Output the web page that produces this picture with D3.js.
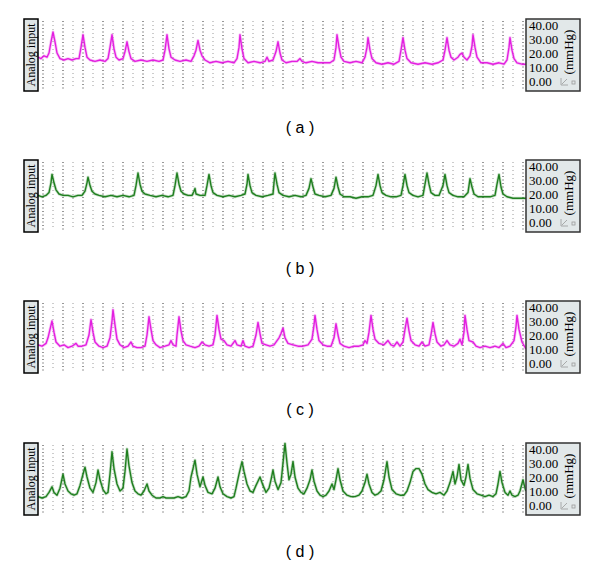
<!DOCTYPE html>
<html>
<head>
<meta charset="utf-8">
<script src="https://cdn.jsdelivr.net/npm/d3@7"></script>
<style>
  body { margin: 0; background: #fff; }
</style>
</head>
<body>
<div id="chart"></div>
<script>
// Size of the page
var width = 600, height = 566;

// Tick labels of the pressure axis (mmHg)
var yTicks = [0, 10, 20, 30, 40];

// Panel captions
var captions = ["( a )", "( b )", "( c )", "( d )"];

// Trace colours for the panels
var traceColors = ["#e31fe0", "#1f7f1f", "#e31fe0", "#1f7f1f"];

// Traces: [sample, pressure in mmHg]
var traceA = [[0,17],[3,16],[6,18],[9,17],[11,20],[13,28],[15,35],[17,28],[19,20],[22,16],[26,15],[30,16],[34,15],[38,16],[41,16],[43,24],[45,33],[47,24],[49,17],[52,15],[57,14],[62,15],[67,14],[70,16],[72,24],[74,33],[76,23],[78,17],[81,15],[85,16],[87,21],[89,28],[91,21],[93,16],[97,14],[103,15],[109,14],[115,15],[121,14],[125,15],[127,22],[129,33],[131,23],[133,17],[137,15],[142,14],[148,15],[153,14],[156,18],[158,22],[160,29],[162,22],[164,18],[167,15],[172,13],[178,14],[184,13],[190,14],[196,13],[199,16],[201,24],[202,33],[204,23],[206,16],[210,13],[216,14],[222,13],[227,14],[229,17],[231,14],[235,15],[238,21],[240,28],[242,20],[244,15],[248,13],[254,14],[259,14],[262,16],[264,14],[268,13],[274,14],[280,13],[286,13],[292,13],[296,15],[298,24],[299,33],[301,24],[303,17],[306,14],[312,13],[318,14],[324,13],[327,17],[329,24],[330,31],[332,22],[334,16],[338,13],[344,12],[350,13],[356,12],[361,14],[363,22],[365,31],[367,22],[369,16],[373,13],[380,12],[387,13],[394,12],[400,13],[405,15],[407,22],[409,31],[411,22],[413,17],[416,15],[420,17],[422,19],[424,20],[426,17],[429,15],[432,18],[434,25],[435,33],[437,24],[439,17],[443,13],[449,13],[455,12],[461,13],[466,12],[469,15],[471,24],[472,31],[474,22],[476,16],[479,13],[484,12],[488,12]];

var traceB = [[0,19],[4,18],[8,19],[11,21],[13,28],[14,34],[16,28],[18,23],[21,20],[25,19],[30,19],[35,18],[40,19],[44,19],[47,22],[49,28],[50,32],[52,26],[54,22],[57,20],[61,19],[67,18],[73,19],[79,18],[85,19],[91,18],[96,19],[98,26],[100,35],[102,27],[104,22],[107,20],[112,19],[118,18],[124,19],[130,18],[135,19],[137,26],[139,35],[141,27],[143,22],[146,20],[150,19],[154,19],[156,22],[157,24],[158,20],[162,19],[167,19],[169,26],[171,34],[173,26],[175,21],[179,19],[185,18],[191,19],[197,18],[203,19],[207,20],[209,27],[210,34],[212,26],[214,21],[218,19],[224,18],[230,19],[235,20],[236,28],[237,35],[239,27],[241,21],[245,19],[251,18],[257,19],[263,18],[268,19],[271,24],[273,31],[275,25],[277,20],[281,19],[287,18],[293,19],[296,24],[298,32],[300,25],[302,20],[306,18],[312,18],[318,17],[324,18],[330,18],[335,19],[338,26],[340,34],[342,26],[344,21],[348,19],[353,18],[358,18],[363,19],[365,26],[367,34],[369,26],[371,21],[375,19],[380,18],[385,19],[387,27],[389,35],[391,27],[393,21],[397,19],[401,19],[405,26],[407,34],[409,26],[411,21],[415,19],[420,18],[426,18],[430,21],[432,31],[434,25],[436,20],[440,18],[446,18],[452,18],[457,19],[459,27],[461,34],[463,25],[465,20],[469,18],[475,17],[481,17],[488,17]];

var traceC = [[0,13],[4,12],[8,14],[10,18],[12,24],[14,30],[16,22],[18,15],[22,12],[26,13],[30,11],[34,12],[38,14],[40,12],[44,12],[48,13],[51,20],[53,31],[55,22],[57,15],[61,12],[65,11],[69,12],[72,18],[74,30],[75,38],[77,27],[79,17],[82,13],[86,11],[90,12],[93,15],[95,12],[99,11],[103,11],[107,12],[109,20],[111,33],[113,24],[115,16],[118,13],[122,11],[127,12],[131,13],[133,16],[135,13],[138,12],[139,20],[141,33],[143,23],[145,16],[148,13],[152,12],[157,11],[161,12],[164,15],[167,13],[171,12],[175,13],[177,20],[179,34],[181,24],[183,17],[186,16],[189,13],[193,12],[197,16],[199,13],[203,12],[205,16],[207,12],[211,11],[215,12],[218,20],[220,29],[222,21],[224,14],[228,13],[232,12],[236,13],[241,18],[243,21],[245,25],[247,18],[250,14],[255,13],[260,12],[265,12],[270,13],[274,17],[276,27],[277,34],[279,24],[281,16],[285,13],[289,12],[293,12],[296,18],[298,28],[300,20],[302,14],[306,12],[311,11],[316,12],[321,12],[325,13],[327,16],[329,14],[331,22],[333,34],[335,24],[337,17],[341,14],[346,13],[350,16],[353,13],[356,12],[359,15],[362,12],[365,15],[367,24],[369,32],[371,23],[373,16],[377,13],[381,12],[384,15],[387,12],[391,13],[393,20],[395,29],[397,21],[399,15],[403,12],[406,13],[409,16],[412,13],[416,12],[420,14],[422,17],[424,13],[426,22],[427,34],[429,24],[431,16],[435,15],[438,12],[442,11],[447,12],[452,11],[457,12],[461,11],[465,14],[468,11],[472,12],[476,16],[478,26],[479,34],[481,24],[484,15],[488,10]];

var traceD = [[0,6],[4,5],[8,6],[11,9],[14,13],[16,9],[19,7],[22,12],[25,22],[27,15],[30,10],[33,8],[36,7],[39,8],[42,14],[45,22],[47,27],[49,20],[52,12],[55,9],[58,16],[60,25],[62,18],[65,11],[68,8],[70,9],[72,22],[74,38],[76,26],[79,15],[82,10],[85,12],[87,24],[89,40],[91,28],[94,16],[97,10],[100,8],[103,7],[106,10],[109,15],[111,10],[114,7],[118,5],[122,5],[125,6],[128,5],[132,5],[136,5],[140,6],[144,5],[148,6],[151,10],[153,20],[155,26],[157,32],[159,22],[162,13],[165,20],[167,14],[170,9],[174,8],[177,12],[180,20],[182,13],[185,8],[189,6],[193,5],[196,6],[198,12],[201,22],[204,31],[206,24],[209,15],[212,10],[215,9],[218,14],[222,20],[225,14],[228,9],[231,12],[233,18],[235,25],[237,17],[240,11],[243,16],[245,30],[247,44],[249,30],[251,18],[253,22],[255,31],[257,20],[260,12],[263,9],[266,8],[269,12],[272,18],[274,25],[276,17],[279,10],[282,7],[285,6],[288,7],[291,10],[294,15],[296,11],[298,18],[300,26],[302,18],[305,10],[309,7],[313,6],[317,6],[321,7],[324,10],[327,16],[329,22],[331,15],[334,9],[337,7],[340,8],[343,10],[346,18],[349,31],[351,20],[354,11],[358,8],[362,7],[366,7],[369,10],[372,16],[375,24],[378,26],[381,26],[384,22],[387,15],[390,11],[394,9],[398,8],[402,9],[406,7],[409,10],[412,16],[415,24],[417,15],[419,20],[421,29],[423,18],[426,14],[428,20],[430,29],[432,19],[435,11],[439,8],[443,7],[447,6],[451,7],[455,6],[458,8],[460,15],[462,24],[464,16],[467,9],[470,7],[472,10],[474,7],[477,6],[480,7],[482,10],[485,18],[487,12],[488,10]];

var traces = [traceA, traceB, traceC, traceD];

// Layout of one panel
var panelTops = [19, 160, 301, 443];
var plotLeft = 38, plotRight = 526;
var panelH = 72;

var svg = d3.select("#chart").append("svg")
    .attr("width", width)
    .attr("height", height)
    .style("font-family", "'Liberation Serif', 'Times New Roman', serif");

// x scale shared by all panels
var x = d3.scaleLinear().domain([0, 488]).range([plotLeft, plotRight]);

traces.forEach(function(data, i) {
    var top = panelTops[i];
    var g = svg.append("g");

    // y scale for this panel
    var y = d3.scaleLinear().domain([0, 40]).range([top + 62, top + 6]);

    // dotted grid columns
    var cols = d3.range(5, 488, 10);
    g.selectAll("line.grid")
        .data(cols)
        .enter()
        .append("line")
        .attr("x1", d => x(d)).attr("x2", d => x(d))
        .attr("y1", top + 2).attr("y2", top + 70)
        .attr("stroke", (d, j) => j % 2 ? "#9a9a9a" : "#333")
        .attr("stroke-width", 1)
        .attr("stroke-dasharray", (d, j) => j % 2 ? "1,3" : "1,2.5");

    // trace
    var line = d3.line()
        .x(d => x(d[0]))
        .y(d => y(d[1]));

    g.append("path")
        .datum(data)
        .attr("d", line)
        .attr("fill", "none")
        .attr("stroke", traceColors[i])
        .attr("stroke-opacity", 0.25)
        .attr("stroke-width", 3)
        .attr("stroke-linejoin", "round");

    g.append("path")
        .datum(data)
        .attr("d", line)
        .attr("fill", "none")
        .attr("stroke", traceColors[i])
        .attr("stroke-width", 1.4)
        .attr("stroke-linejoin", "round");

    // left label box
    g.append("rect")
        .attr("x", 24).attr("y", top)
        .attr("width", 14).attr("height", panelH)
        .attr("fill", "#dfe5e6")
        .attr("stroke", "#000")
        .attr("stroke-width", 1.5);

    g.append("text")
        .attr("transform", "translate(35," + (top + panelH / 2) + ") rotate(-90)")
        .attr("text-anchor", "middle")
        .attr("font-size", 12)
        .text("Analog input");

    // right axis box
    g.append("rect")
        .attr("x", plotRight).attr("y", top)
        .attr("width", 54).attr("height", panelH)
        .attr("fill", "#e2e8e9")
        .attr("stroke", "#333")
        .attr("stroke-width", 1.5);

    var axis = d3.axisRight(y)
        .tickValues(yTicks)
        .tickSize(0)
        .tickPadding(3)
        .tickFormat(d3.format(".2f"));

    var ax = g.append("g")
        .attr("transform", "translate(" + plotRight + ",0)")
        .call(axis);
    ax.select(".domain").remove();
    ax.selectAll("text")
        .attr("font-size", 13)
        .attr("font-family", "'Liberation Serif', serif")
        .attr("fill", "#000");

    g.append("text")
        .attr("transform", "translate(573," + (top + 33) + ") rotate(-90)")
        .attr("text-anchor", "middle")
        .attr("font-size", 13)
        .text("(mmHg)");

    // small toolbar icons in the corner
    g.append("path")
        .attr("d", "M561," + (top + 59) + "v7h7 M562," + (top + 65) + "l5,-5")
        .attr("fill", "none")
        .attr("stroke", "#999")
        .attr("stroke-width", 0.8);
    g.append("rect")
        .attr("x", 572).attr("y", top + 62)
        .attr("width", 3).attr("height", 3)
        .attr("fill", "none")
        .attr("stroke", "#999")
        .attr("stroke-width", 0.8);

    // caption
    svg.append("text")
        .attr("x", 300).attr("y", top + 114)
        .attr("text-anchor", "middle")
        .attr("font-family", "'Liberation Sans', Arial, sans-serif")
        .attr("font-size", 16)
        .text(captions[i]);
});
</script>
</body>
</html>
